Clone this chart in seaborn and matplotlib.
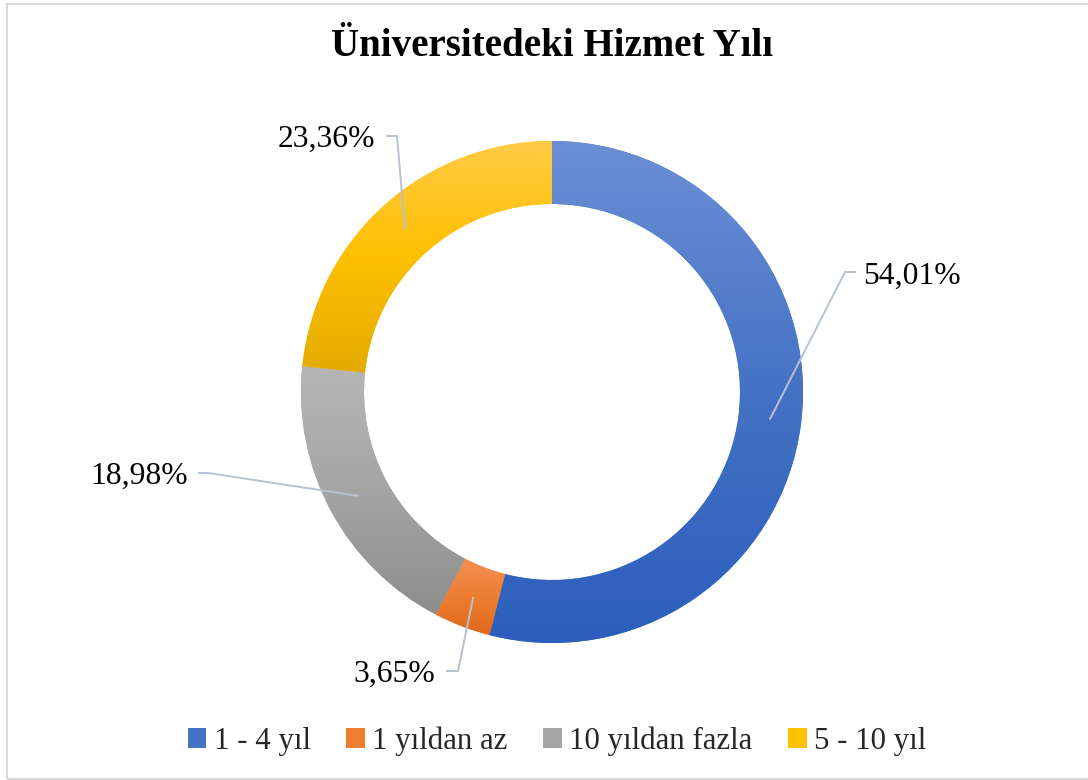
import numpy as np
import matplotlib
matplotlib.use("Agg")
import matplotlib.pyplot as plt
from matplotlib.colors import LinearSegmentedColormap
from matplotlib.patches import Patch, Rectangle
import seaborn as sns

# data
categories = ["1 - 4 yıl", "1 yıldan az", "10 yıldan fazla", "5 - 10 yıl"]
values = [54.01, 3.65, 18.98, 23.36]
title = "Üniversitedeki Hizmet Yılı"

# gradient stops per slice (top, middle, bottom)
grad_colors = [
    ("#6b8fd5", "#4472c4", "#2c5fbd"),
    ("#f28f55", "#ed7d31", "#e06a1a"),
    ("#b6b6b6", "#a5a5a5", "#8d8d8d"),
    ("#ffcb45", "#ffc000", "#e3ab00"),
]

sns.set_theme(style="white")
plt.rcParams["font.family"] = ["Liberation Serif", "DejaVu Serif"]

W, H = 1088, 780
fig = plt.figure(figsize=(W / 100, H / 100), dpi=100)
ax = fig.add_axes([0, 0, 1, 1])


def Y(y):
    # image row -> data y
    return H - y


cx, cy = 552, Y(392)
r_out, r_in = 251, 188

wedges, _ = ax.pie(values, startangle=90, counterclock=False, center=(cx, cy),
                   radius=r_out, colors=[c[1] for c in grad_colors],
                   wedgeprops=dict(width=r_out - r_in, linewidth=0),
                   frame=True)
ax.set_xlim(0, W)
ax.set_ylim(0, H)
ax.set_aspect("equal")
ax.axis("off")

# vertical gradient inside every slice
for w, cols in zip(wedges, grad_colors):
    bb = w.get_path().get_extents()
    cmap = LinearSegmentedColormap.from_list("g", [cols[2], cols[1], cols[0]])
    grad = np.linspace(0, 1, 256).reshape(-1, 1)
    im = ax.imshow(grad, cmap=cmap, origin="lower", aspect="auto",
                   extent=(bb.x0, bb.x1, bb.y0, bb.y1), zorder=3)
    im.set_clip_path(w)

# data labels with leader lines
label_layout = [
    # elbow, end, text pos, ha
    ((845, 272), (856, 272), (863, 276), "left"),
    ((458, 671), (446, 671), (435, 674), "right"),
    ((208, 473), (198, 473), (188, 476), "right"),
    ((397, 136), (386, 136), (375, 139), "right"),
]
r_mid = (r_out + r_in) / 2
for w, v, (elbow, end, tpos, ha) in zip(wedges, values, label_layout):
    ang = np.deg2rad((w.theta1 + w.theta2) / 2)
    ax0 = cx + r_mid * np.cos(ang)
    ay0 = cy + r_mid * np.sin(ang)
    ax.plot([ax0, elbow[0], end[0]], [ay0, Y(elbow[1]), Y(end[1])],
            color="#b7c2d0", lw=1.4, zorder=4, solid_capstyle="butt")
    ax.text(tpos[0], Y(tpos[1]), f"{v:.2f}%".replace(".", ","), ha=ha, va="center",
            fontsize=22.8, color="#000000", zorder=5)

ax.text(W / 2 + 8, Y(47), title, ha="center", va="center", fontsize=28,
        fontweight="bold", color="#000000")

# chart border
ax.add_patch(Rectangle((6.5, Y(779)), W, 775.5, fill=False, edgecolor="#d9d9d9",
                       lw=1.5, zorder=1))

handles = [Patch(facecolor=c[1], edgecolor="none") for c in grad_colors]
fig.legend(handles, categories, loc="center", bbox_to_anchor=(0.512, (H - 741) / H),
           ncol=4, frameon=False, fontsize=22.2, handlelength=0.6, handleheight=0.6,
           handletextpad=0.25, columnspacing=1.15)

fig.savefig("out.png", dpi=100)
